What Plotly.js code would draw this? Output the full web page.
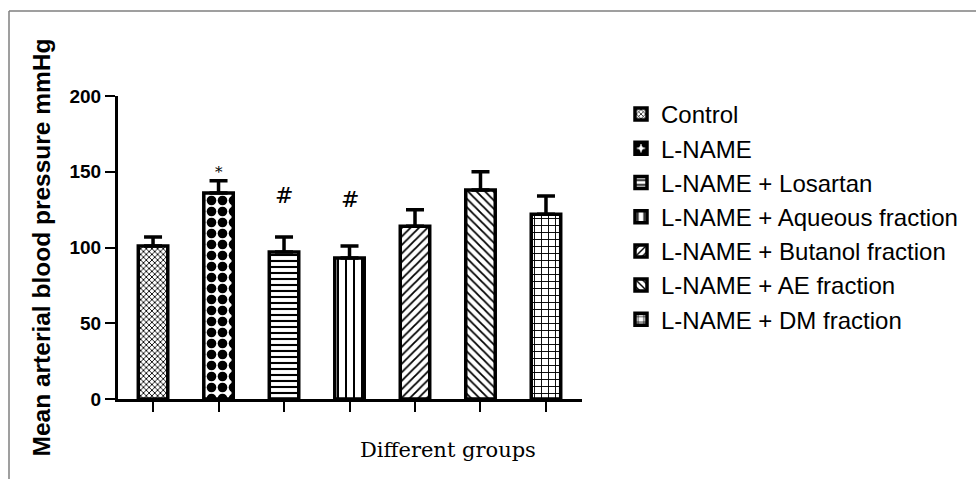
<!DOCTYPE html>
<html>
<head>
<meta charset="utf-8">
<script src="https://cdn.plot.ly/plotly-3.0.1.min.js"></script>
<style>html,body{margin:0;padding:0;background:#fff;}#chart{width:976px;height:479px;}</style>
</head>
<body>
<div id="chart"></div>
<script>
var groups = ["Control", "L-NAME", "L-NAME + Losartan", "L-NAME + Aqueous fraction", "L-NAME + Butanol fraction", "L-NAME + AE fraction", "L-NAME + DM fraction"];
var means = [101, 136, 97, 93, 114, 138, 122];
var errors = [6, 8, 10, 8, 11, 12, 12];
var patterns = ["x", ".", "-", "|", "/", "\\", "+"];
var patternSizes = [4, 11, 6, 8, 6, 6, 7];
var patternSolidity = [0.4, 0.6, 0.35, 0.25, 0.3, 0.3, 0.25];
var marks = [
  {group: 1, y: 150, text: "*", size: 15},
  {group: 2, y: 134.5, text: "#", size: 22},
  {group: 3, y: 132, text: "#", size: 22}
];

var traces = groups.map(function (g, i) {
  return {
    type: "bar",
    name: g,
    x: [i],
    y: [means[i]],
    width: 0.45,
    marker: {
      color: "white",
      line: {color: "black", width: 3.5},
      pattern: {shape: patterns[i], size: patternSizes[i], solidity: patternSolidity[i], fgcolor: "black", bgcolor: "white", fillmode: "replace"}
    },
    error_y: {type: "data", symmetric: false, array: [errors[i]], arrayminus: [0], color: "black", thickness: 3.5, width: 9},
    hoverinfo: "skip"
  };
});

var annotations = marks.map(function (m) {
  return {x: m.group, y: m.y, xref: "x", yref: "y", text: m.text, showarrow: false,
    xanchor: "center", yanchor: "middle",
    font: {family: "DejaVu Serif", size: m.size, color: "black"}};
});
annotations.push({
  x: (448 - 118) / 464, y: -(450 - 399) / 303, xref: "paper", yref: "paper",
  xanchor: "center", yanchor: "middle",
  text: "Different groups", showarrow: false,
  font: {family: "DejaVu Serif", size: 21, color: "black"}
});

var layout = {
  width: 976, height: 479,
  margin: {l: 118, r: 394, t: 96, b: 80, autoexpand: false},
  paper_bgcolor: "white", plot_bgcolor: "white",
  barmode: "overlay",
  showlegend: true,
  legend: {
    x: (621 - 118) / 464, xanchor: "left",
    y: (399 - 92) / 303, yanchor: "top",
    font: {family: "Liberation Sans, Arial, sans-serif", size: 24, color: "black"},
    tracegroupgap: 0,
    itemwidth: 30
  },
  xaxis: {
    range: [-0.535, 6.55],
    showgrid: false, zeroline: false,
    showline: true, linecolor: "black", linewidth: 3,
    ticks: "outside", ticklen: 10, tickwidth: 2, tickcolor: "black",
    tickmode: "array", tickvals: [0, 1, 2, 3, 4, 5, 6],
    showticklabels: false, fixedrange: true
  },
  yaxis: {
    range: [0, 200],
    showgrid: false, zeroline: false,
    showline: true, linecolor: "black", linewidth: 3,
    ticks: "outside", ticklen: 10, tickwidth: 2, tickcolor: "black",
    tickmode: "array", tickvals: [0, 50, 100, 150, 200],
    ticktext: ["0", "50", "100", "150", "200"],
    tickfont: {family: "Liberation Sans, Arial, sans-serif", size: 19, color: "black", weight: "bold"},
    title: {text: "<b>Mean arterial blood pressure mmHg</b>", standoff: 12,
      font: {family: "Liberation Sans, Arial, sans-serif", size: 24.5, color: "black"}},
    fixedrange: true
  },
  annotations: annotations,
  shapes: [
    {type: "line", xref: "paper", yref: "paper", x0: (9 - 118) / 464, x1: (9 - 118) / 464, y0: (399 - 11) / 303, y1: (399 - 479) / 303, line: {color: "#7f7f7f", width: 1.5}},
    {type: "line", xref: "paper", yref: "paper", x0: (9 - 118) / 464, x1: (976 - 118) / 464, y0: (399 - 11) / 303, y1: (399 - 11) / 303, line: {color: "#7f7f7f", width: 1.5}}
  ]
};

Plotly.newPlot("chart", traces, layout, {displayModeBar: false, staticPlot: true});
</script>
</body>
</html>
